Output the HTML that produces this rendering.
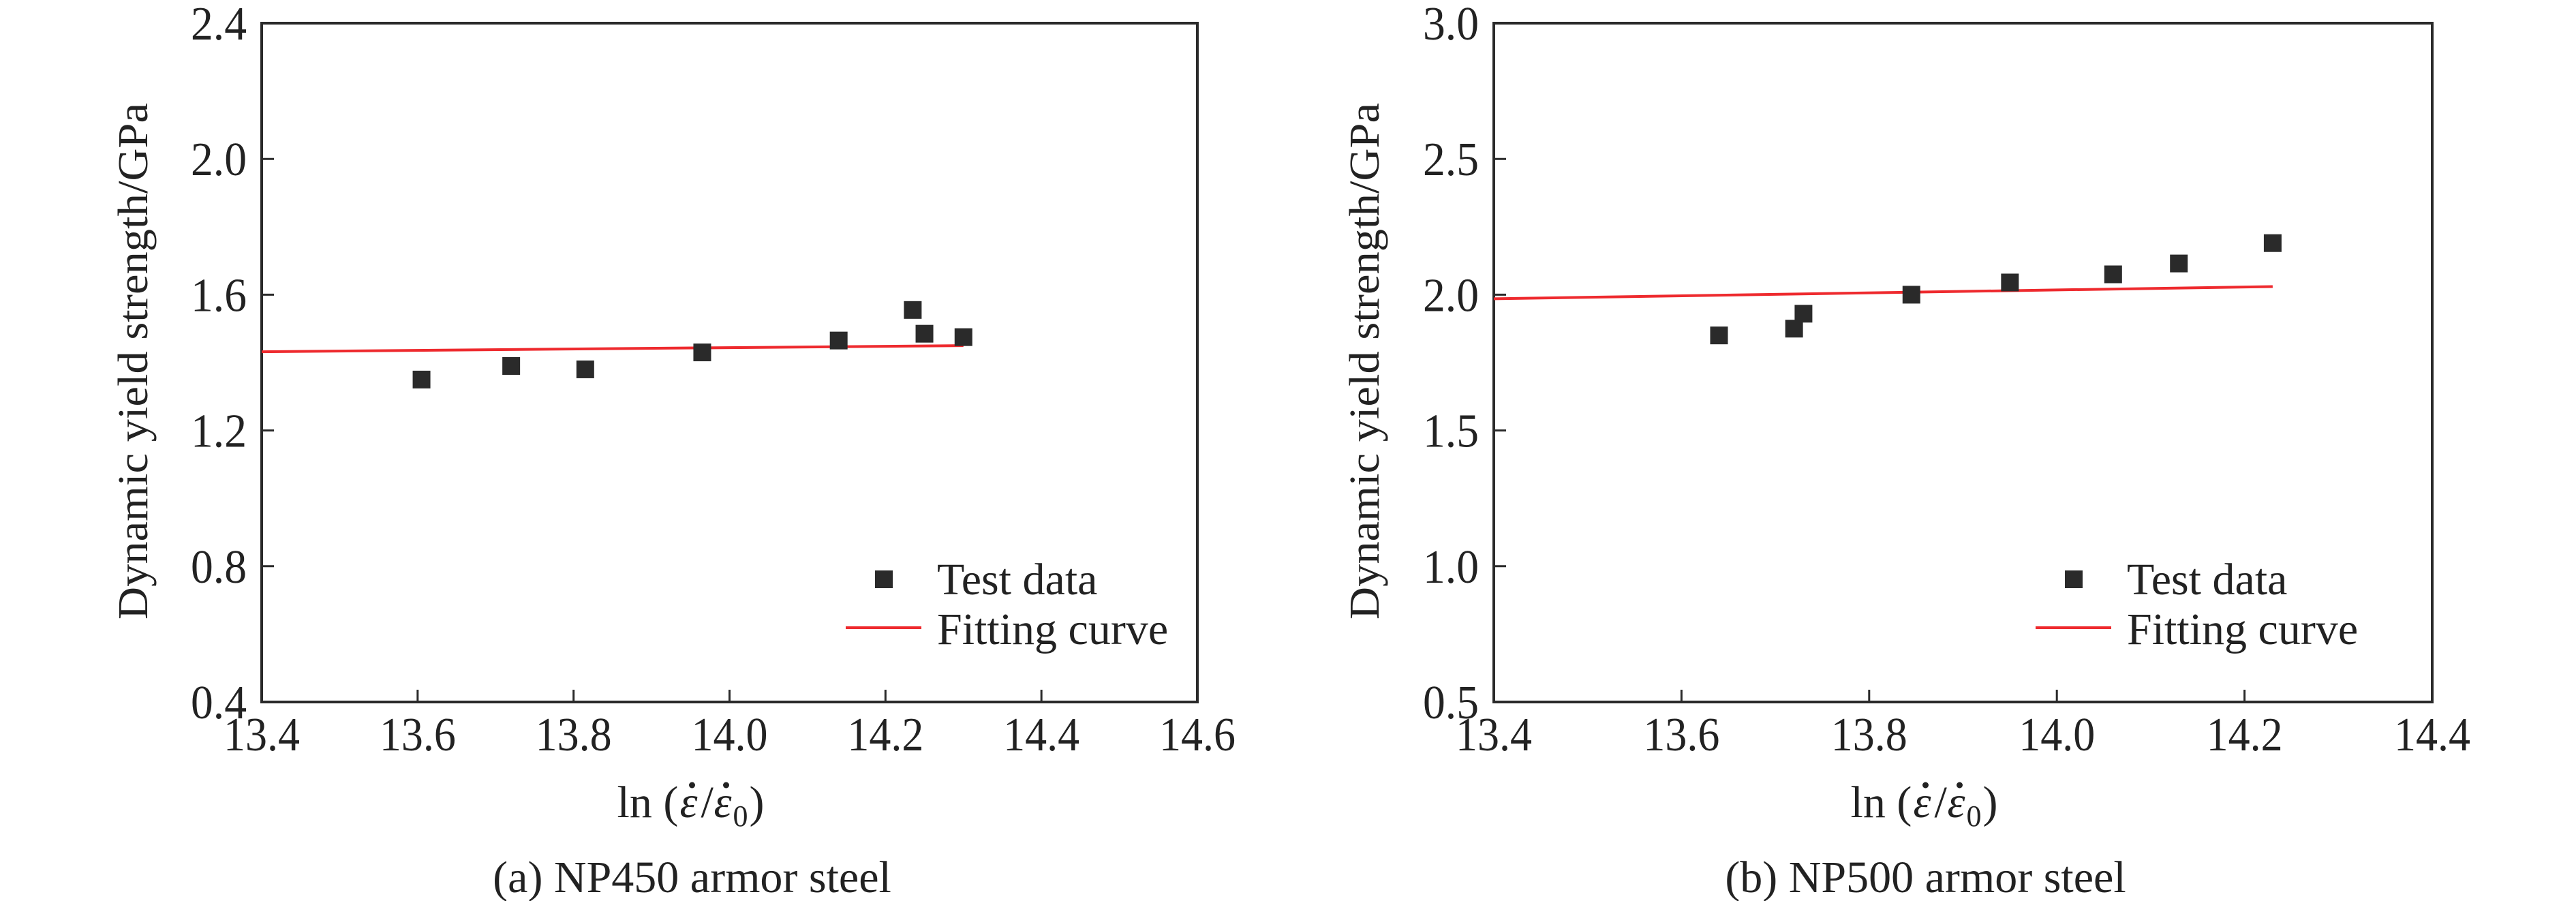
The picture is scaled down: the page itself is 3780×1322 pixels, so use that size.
<!DOCTYPE html>
<html><head><meta charset="utf-8"><style>
html,body{margin:0;padding:0;background:#fff;}
svg{display:block;}
svg text{font-family:"Liberation Serif","DejaVu Serif",serif;}
</style></head><body>
<svg id="chart" width="3780" height="1322" viewBox="0 0 3780 1322" font-family="Liberation Serif, DejaVu Serif, serif"></svg>
<script>
// Panel (a) NP450
const xTicksA = [13.4, 13.6, 13.8, 14.0, 14.2, 14.4, 14.6];
const yTicksA = [0.4, 0.8, 1.2, 1.6, 2.0, 2.4];
const xA = [13.605, 13.72, 13.815, 13.965, 14.14, 14.235, 14.25, 14.3];
const yA = [1.35, 1.39, 1.38, 1.43, 1.465, 1.555, 1.485, 1.475];
const fitXA = [13.4, 14.3];
const fitYA = [1.432, 1.45];
// Panel (b) NP500
const xTicksB = [13.4, 13.6, 13.8, 14.0, 14.2, 14.4];
const yTicksB = [0.5, 1.0, 1.5, 2.0, 2.5, 3.0];
const xB = [13.64, 13.72, 13.73, 13.845, 13.95, 14.06, 14.13, 14.23];
const yB = [1.85, 1.875, 1.93, 2.0, 2.045, 2.075, 2.115, 2.19];
const fitXB = [13.4, 14.23];
const fitYB = [1.985, 2.03];

const NS = "http://www.w3.org/2000/svg";
const svg = document.getElementById('chart');
const FF = 'Liberation Serif, DejaVu Serif, serif';
function mk(tag, attrs, parent, text) {
  const e = document.createElementNS(NS, tag);
  for (const k in attrs) e.setAttribute(k, attrs[k]);
  if (tag === 'text') e.setAttribute('font-family', FF);
  if (text !== undefined) e.textContent = text;
  (parent || svg).appendChild(e);
  return e;
}
function panel(cfg) {
  const g = mk('g', {});
  
  
  const L = cfg.left, R = cfg.right, T = 34, B = 1030;
  const xmin = cfg.xt[0], xmax = cfg.xt[cfg.xt.length - 1];
  const ymin = cfg.yt[0], ymax = cfg.yt[cfg.yt.length - 1];
  const sx = v => L + (v - xmin) / (xmax - xmin) * (R - L);
  const sy = v => B - (v - ymin) / (ymax - ymin) * (B - T);
  const fmt = (v, d) => v.toFixed(d);
  cfg.xt.forEach(v => {
    const t = mk('line', {x1: sx(v), x2: sx(v), y1: B, y2: B - 18, stroke: '#2a2a2a', 'stroke-width': 3}, g);
    
    
    const l = mk('text', {x: sx(v), y: 1101, 'text-anchor': 'middle', 'font-size': 70, fill: '#222', textLength: 112, lengthAdjust: 'spacingAndGlyphs'}, g, fmt(v, 1));
    
    
  });
  cfg.yt.forEach(v => {
    const t = mk('line', {x1: L, x2: L + 18, y1: sy(v), y2: sy(v), stroke: '#2a2a2a', 'stroke-width': 3}, g);
    
    
    const l = mk('text', {x: L - 22, y: sy(v) + 24, 'text-anchor': 'end', 'font-size': 70, fill: '#222', textLength: 82, lengthAdjust: 'spacingAndGlyphs'}, g, fmt(v, 1));
    
    
  });
  const frame = mk('rect', {x: L, y: T, width: R - L, height: B - T, fill: 'none', stroke: '#2a2a2a', 'stroke-width': 4}, g);
  
  
  const fl = mk('line', {x1: sx(cfg.fx[0]), y1: sy(cfg.fy[0]), x2: sx(cfg.fx[1]), y2: sy(cfg.fy[1]), stroke: '#ee2a2e', 'stroke-width': 4}, g);
  
  
  cfg.px.forEach((v, i) => {
    const r = mk('rect', {x: sx(v) - 13, y: sy(cfg.py[i]) - 13, width: 26, height: 26, fill: '#2a2a2a'}, g);
    
    
  });
  const lm = mk('rect', {x: cfg.legX - 13, y: 837, width: 26, height: 26, fill: '#2a2a2a'}, g);
  
  
  const lt1 = mk('text', {x: cfg.legX + 78, y: 872, 'font-size': 66, fill: '#222'}, g, 'Test data');
  
  
  const ll = mk('line', {x1: cfg.legX - 56, x2: cfg.legX + 55, y1: 921, y2: 921, stroke: '#ee2a2e', 'stroke-width': 4}, g);
  
  
  const lt2 = mk('text', {x: cfg.legX + 78, y: 945, 'font-size': 66, fill: '#222'}, g, 'Fitting curve');
  
  
  const cx = (L + R) / 2 - 55;
  const xg = mk('g', {}, g);
  
  
  const x0 = cx - 110;
  mk('text', {x: x0, y: 1199, 'font-size': 66, fill: '#222'}, xg, 'ln (');
  mk('text', {x: x0 + 92, y: 1199, 'font-size': 66, 'font-style': 'italic', fill: '#222'}, xg, 'ε');
  mk('circle', {cx: x0 + 110, cy: 1152, r: 4.5, fill: '#222'}, xg);
  mk('text', {x: x0 + 123, y: 1199, 'font-size': 66, fill: '#222'}, xg, '/');
  mk('text', {x: x0 + 142, y: 1199, 'font-size': 66, 'font-style': 'italic', fill: '#222'}, xg, 'ε');
  mk('circle', {cx: x0 + 160, cy: 1152, r: 4.5, fill: '#222'}, xg);
  mk('text', {x: x0 + 170, y: 1212, 'font-size': 44, fill: '#222'}, xg, '0');
  mk('text', {x: x0 + 194, y: 1199, 'font-size': 66, fill: '#222'}, xg, ')');
  const yt = mk('text', {x: 0, y: 0, 'text-anchor': 'middle', 'font-size': 62, fill: '#222', transform: `translate(${cfg.yTitleX},530) rotate(-90)`, textLength: 758, lengthAdjust: 'spacingAndGlyphs'}, g, 'Dynamic yield strength/GPa');
  
  
  const cap = mk('text', {x: cx, y: 1309, 'text-anchor': 'middle', 'font-size': 66, fill: '#222'}, g, cfg.caption);
  
  
}
panel({name: 'panel-a-np450', left: 384, right: 1757, xt: xTicksA, yt: yTicksA, px: xA, py: yA, fx: fitXA, fy: fitYA, legX: 1297, yTitleX: 216, caption: '(a) NP450 armor steel'});
panel({name: 'panel-b-np500', left: 2192, right: 3569, xt: xTicksB, yt: yTicksB, px: xB, py: yB, fx: fitXB, fy: fitYB, legX: 3043, yTitleX: 2023, caption: '(b) NP500 armor steel'});
</script>
</body></html>
